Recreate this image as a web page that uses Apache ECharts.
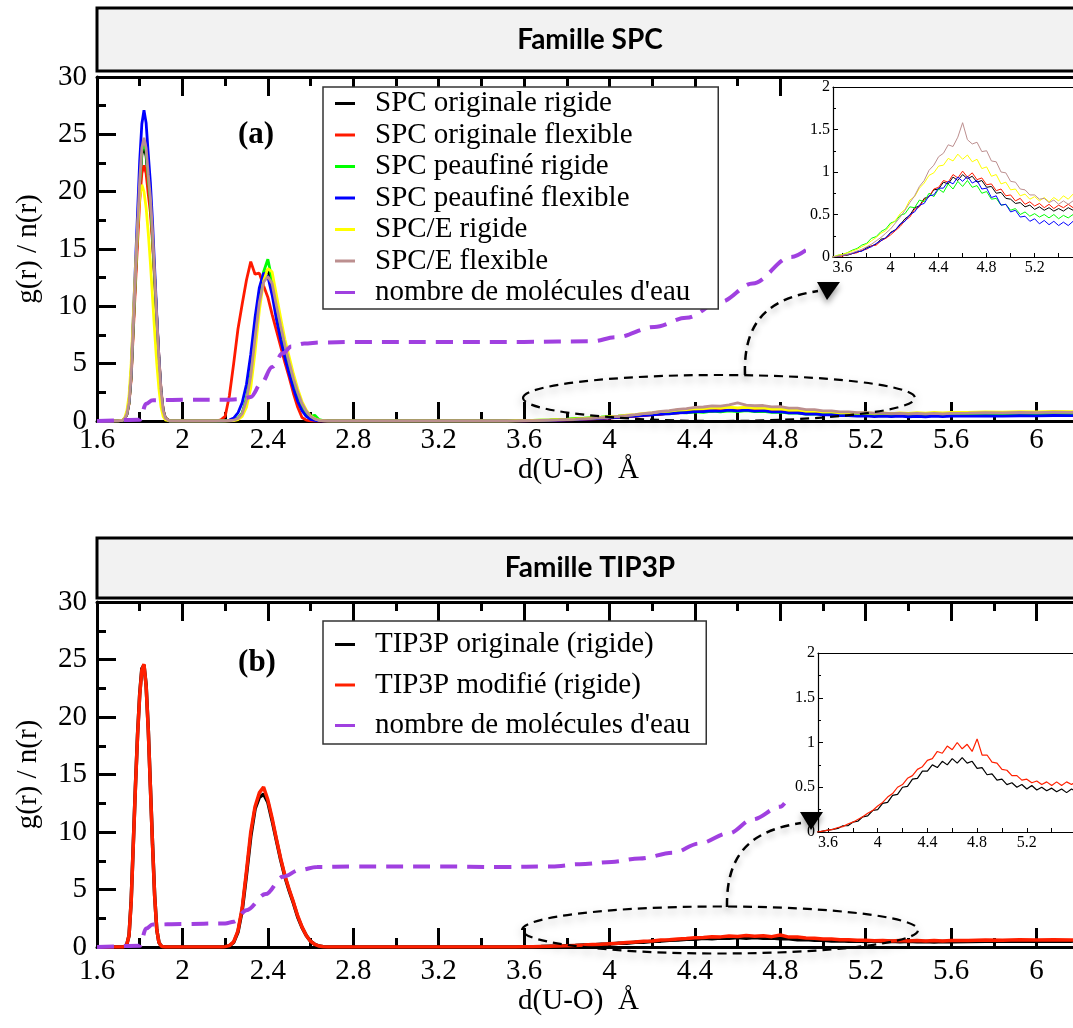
<!DOCTYPE html>
<html><head><meta charset="utf-8">
<script src="https://cdn.jsdelivr.net/npm/echarts@6/dist/echarts.min.js"></script>
<style>html,body{margin:0;padding:0;background:#fff}#c{width:1073px;height:1028px}</style>
</head><body><div id="c"></div>
<script>
// ---------- shared r grid (Å) for g(r) curves ----------
const r = [
  1.60, 1.66, 1.70,
  1.72, 1.73, 1.74, 1.75, 1.76, 1.77, 1.78, 1.79, 1.80, 1.81, 1.82, 1.83, 1.84, 1.85, 1.86, 1.87, 1.88, 1.89, 1.90, 1.91, 1.92,
  1.94, 1.98, 2.06, 2.12,
  2.16, 2.18, 2.20, 2.22, 2.24, 2.26, 2.28, 2.30, 2.32, 2.34, 2.36, 2.38, 2.40, 2.42, 2.44, 2.46, 2.48, 2.50, 2.52, 2.54, 2.56, 2.58, 2.60, 2.62, 2.64, 2.66, 2.68, 2.70,
  2.80, 3.00, 3.20, 3.40,
  3.52, 3.56, 3.60, 3.64, 3.68, 3.72, 3.76, 3.80, 3.84, 3.88, 3.92, 3.96, 4.00, 4.04, 4.08, 4.12, 4.16, 4.20, 4.24, 4.28,
  4.32, 4.36, 4.40, 4.44, 4.48, 4.52, 4.56, 4.60, 4.64, 4.68, 4.72, 4.76, 4.80, 4.84, 4.88, 4.92, 4.96, 5.00, 5.04, 5.08,
  5.12, 5.16, 5.20, 5.24, 5.28, 5.32, 5.36, 5.40, 5.44, 5.48, 5.52, 5.56, 5.60,
  5.68, 5.76, 5.84, 5.92, 6.00, 6.08, 6.16, 6.24
];

// ---------- panel (a) : famille SPC ----------
const spcOrigRigide = [
  0, 0, 0.005,
  0.05, 0.2, 0.58, 1.55, 3.9, 8.3, 12.5, 16.6, 20.5, 23.2, 24.0, 23.1, 20.9, 18.9, 16.0, 12.4, 8.8, 5.3, 2.5, 0.9, 0.25,
  0, 0, 0, 0,
  0, 0, 0, 0.02, 0.06, 0.2, 0.6, 1.8, 3.8, 7.4, 10.8, 12.4, 13.2, 11.9, 9.6, 8.0, 6.4, 5.0, 3.6, 2.4, 1.4, 0.75, 0.35, 0.15, 0.05, 0.02, 0, 0,
  0.01, 0, 0, 0,
  0.00, 0.01, 0.02, 0.02, 0.04, 0.06, 0.07, 0.11, 0.13, 0.15, 0.21, 0.22, 0.29, 0.32, 0.38, 0.45, 0.49, 0.58, 0.6, 0.69,
  0.71, 0.79, 0.8, 0.88, 0.86, 0.94, 0.9, 0.97, 0.92, 0.95, 0.88, 0.9, 0.82, 0.83, 0.75, 0.76, 0.69, 0.68, 0.63, 0.64,
  0.59, 0.61, 0.56, 0.59, 0.55, 0.58, 0.54, 0.57, 0.54, 0.58, 0.55, 0.59, 0.56,
  0.56, 0.6, 0.58, 0.62, 0.6, 0.64, 0.62, 0.65
];
const spcOrigFlex = [
  0, 0, 0.004,
  0.05, 0.18, 0.55, 1.5, 3.7, 7.8, 11.8, 15.6, 19.2, 21.6, 22.3, 21.6, 19.8, 18.2, 15.6, 12.4, 9.0, 5.6, 2.7, 1.0, 0.3,
  0.01, 0, 0, 0,
  0.02, 0.1, 0.4, 2.2, 5.0, 8.0, 10.2, 12.3, 13.9, 12.8, 12.9, 11.8, 10.8, 9.3, 7.9, 6.5, 5.1, 3.8, 2.4, 1.2, 0.3, 0.08, 0.02, 0, 0, 0, 0, 0,
  0, 0, 0, 0,
  0.00, 0.01, 0.01, 0.03, 0.04, 0.05, 0.08, 0.09, 0.13, 0.14, 0.19, 0.22, 0.26, 0.31, 0.36, 0.43, 0.47, 0.56, 0.59, 0.68,
  0.71, 0.8, 0.82, 0.9, 0.88, 0.97, 0.93, 1.01, 0.94, 0.99, 0.91, 0.93, 0.85, 0.86, 0.78, 0.8, 0.72, 0.73, 0.66, 0.69,
  0.62, 0.65, 0.6, 0.63, 0.58, 0.62, 0.57, 0.61, 0.58, 0.62, 0.58, 0.63, 0.6,
  0.62, 0.64, 0.63, 0.66, 0.65, 0.68, 0.66, 0.7
];
const spcPeauRigide = [
  0, 0, 0.005,
  0.05, 0.2, 0.6, 1.6, 4.0, 8.4, 12.7, 16.8, 20.8, 23.5, 24.4, 23.5, 21.2, 19.2, 16.2, 12.6, 8.9, 5.4, 2.5, 0.9, 0.25,
  0, 0, 0, 0,
  0, 0, 0.01, 0.03, 0.08, 0.25, 0.7, 2.0, 4.1, 7.8, 11.2, 13.0, 14.1, 12.3, 10.0, 8.2, 6.5, 5.0, 3.5, 2.3, 1.3, 0.7, 0.4, 0.5, 0.12, 0.04, 0.01, 0,
  0.01, 0, 0, 0,
  0.00, 0.02, 0.03, 0.05, 0.08, 0.1, 0.14, 0.16, 0.22, 0.24, 0.3, 0.33, 0.4, 0.42, 0.49, 0.51, 0.59, 0.58, 0.67, 0.65,
  0.75, 0.71, 0.8, 0.76, 0.86, 0.8, 0.89, 0.83, 0.9, 0.82, 0.84, 0.75, 0.77, 0.68, 0.69, 0.61, 0.62, 0.55, 0.57, 0.5,
  0.53, 0.48, 0.51, 0.47, 0.5, 0.46, 0.5, 0.45, 0.49, 0.46, 0.5, 0.47, 0.51,
  0.52, 0.55, 0.54, 0.57, 0.56, 0.6, 0.58, 0.62
];
const spcPeauFlex = [
  0, 0, 0.005,
  0.05, 0.2, 0.65, 1.7, 4.2, 9.0, 13.6, 18.2, 22.7, 25.9, 27.1, 26.0, 23.3, 20.8, 17.4, 13.3, 9.2, 5.5, 2.5, 0.85, 0.2,
  0, 0, 0, 0,
  0, 0, 0.02, 0.08, 0.25, 0.7, 1.6, 3.2, 5.8, 9.0, 11.6, 12.9, 12.6, 11.0, 8.9, 7.1, 5.5, 4.1, 2.8, 1.7, 0.9, 0.4, 0.15, 0.05, 0.01, 0, 0, 0,
  0, 0, 0, 0,
  0.00, 0.01, 0.02, 0.03, 0.04, 0.06, 0.07, 0.1, 0.12, 0.16, 0.19, 0.23, 0.28, 0.32, 0.39, 0.42, 0.5, 0.53, 0.61, 0.63,
  0.72, 0.73, 0.81, 0.81, 0.89, 0.86, 0.94, 0.89, 0.95, 0.87, 0.9, 0.8, 0.81, 0.7, 0.72, 0.61, 0.62, 0.53, 0.55, 0.47,
  0.48, 0.42, 0.45, 0.39, 0.43, 0.38, 0.42, 0.37, 0.41, 0.37, 0.42, 0.38, 0.42,
  0.42, 0.44, 0.43, 0.46, 0.45, 0.48, 0.47, 0.5
];
const spceRigide = [
  0, 0, 0.01,
  0.08, 0.3, 0.9, 2.2, 5.0, 9.2, 13.2, 16.8, 19.6, 20.6, 20.0, 18.6, 16.4, 13.8, 10.8, 7.8, 5.0, 2.8, 1.2, 0.4, 0.1,
  0, 0, 0, 0,
  0, 0, 0, 0.01, 0.04, 0.12, 0.4, 1.2, 2.9, 6.0, 9.6, 12.2, 13.3, 13.0, 11.0, 9.0, 7.1, 5.6, 4.1, 2.8, 1.7, 0.95, 0.45, 0.2, 0.07, 0.02, 0, 0,
  0.01, 0, 0, 0,
  0.00, 0.02, 0.03, 0.05, 0.07, 0.09, 0.12, 0.15, 0.19, 0.23, 0.28, 0.31, 0.38, 0.43, 0.51, 0.56, 0.67, 0.71, 0.81, 0.87,
  0.96, 0.99, 1.07, 1.08, 1.16, 1.13, 1.21, 1.15, 1.2, 1.12, 1.15, 1.04, 1.06, 0.95, 0.97, 0.86, 0.88, 0.79, 0.8, 0.72,
  0.74, 0.68, 0.71, 0.66, 0.7, 0.65, 0.7, 0.66, 0.72, 0.68, 0.74, 0.7, 0.76,
  0.76, 0.8, 0.78, 0.82, 0.8, 0.84, 0.82, 0.86
];
const spceFlex = [
  0, 0, 0.005,
  0.05, 0.2, 0.6, 1.6, 4.0, 8.5, 12.8, 17.0, 21.0, 23.8, 24.7, 23.8, 21.5, 19.5, 16.5, 12.8, 9.0, 5.5, 2.6, 0.9, 0.25,
  0, 0, 0, 0,
  0, 0, 0, 0.02, 0.07, 0.22, 0.65, 1.8, 3.9, 7.2, 10.3, 12.1, 12.6, 12.0, 10.1, 8.3, 6.6, 5.1, 3.7, 2.5, 1.5, 0.85, 0.4, 0.18, 0.06, 0.02, 0, 0,
  0.01, 0, 0, 0,
  0.00, 0.01, 0.02, 0.03, 0.05, 0.07, 0.09, 0.12, 0.15, 0.19, 0.23, 0.28, 0.33, 0.4, 0.47, 0.55, 0.64, 0.72, 0.83, 0.9,
  1.02, 1.08, 1.18, 1.22, 1.32, 1.3, 1.41, 1.58, 1.38, 1.33, 1.35, 1.24, 1.25, 1.13, 1.12, 1.0, 0.99, 0.89, 0.88, 0.8,
  0.79, 0.73, 0.73, 0.68, 0.69, 0.64, 0.67, 0.62, 0.66, 0.62, 0.66, 0.63, 0.67,
  0.68, 0.72, 0.7, 0.74, 0.73, 0.77, 0.75, 0.79
];
// number of water molecules n(r), panel (a)
const nTopR = [1.60, 1.80, 1.83, 1.86, 2.00, 2.20, 2.28, 2.32, 2.37, 2.42, 2.47, 2.51, 2.57, 2.65, 2.80, 3.20, 3.60, 3.92, 4.03, 4.21, 4.36, 4.52, 4.67, 4.85, 4.92];
const nTop  = [0, 0.1, 1.5, 1.8, 1.85, 1.85, 1.9, 2.1, 3.3, 4.7, 5.9, 6.5, 6.75, 6.85, 6.9, 6.9, 6.9, 6.95, 7.3, 8.2, 9.0, 10.4, 12.0, 14.3, 14.9];

// ---------- panel (b) : famille TIP3P ----------
const tip3pOrig = [
  0, 0, 0,
  0, 0.05, 0.25, 1.0, 4.0, 9.0, 14.0, 18.5, 22.0, 24.2, 24.5, 22.8, 19.0, 14.0, 9.0, 4.5, 1.5, 0.4, 0.1, 0.02, 0,
  0, 0, 0, 0,
  0, 0, 0.02, 0.1, 0.4, 1.3, 3.2, 6.3, 9.6, 12.0, 13.0, 13.3, 12.6, 11.0, 9.3, 7.6, 6.1, 4.9, 3.8, 2.6, 1.7, 1.0, 0.5, 0.22, 0.08, 0.02, 0, 0,
  0, 0, 0, 0,
  0.00, 0.01, 0.02, 0.03, 0.04, 0.07, 0.07, 0.11, 0.12, 0.17, 0.18, 0.24, 0.25, 0.32, 0.33, 0.41, 0.42, 0.5, 0.51, 0.59,
  0.6, 0.68, 0.68, 0.75, 0.72, 0.79, 0.75, 0.82, 0.77, 0.83, 0.77, 0.79, 0.71, 0.72, 0.64, 0.65, 0.58, 0.59, 0.53, 0.55,
  0.5, 0.53, 0.48, 0.52, 0.47, 0.5, 0.46, 0.49, 0.45, 0.48, 0.44, 0.48, 0.45,
  0.47, 0.5, 0.49, 0.52, 0.5, 0.53, 0.51, 0.54
];
const tip3pModif = [
  0, 0, 0,
  0, 0.05, 0.25, 1.0, 3.9, 8.9, 13.9, 18.4, 21.9, 24.1, 24.6, 22.7, 18.9, 13.9, 8.9, 4.4, 1.5, 0.4, 0.1, 0.02, 0,
  0, 0, 0, 0,
  0, 0, 0.03, 0.12, 0.45, 1.4, 3.4, 6.6, 10.0, 12.2, 13.4, 13.9, 12.8, 11.2, 9.4, 7.7, 6.2, 5.0, 3.9, 2.7, 1.75, 1.0, 0.5, 0.22, 0.08, 0.02, 0, 0,
  0, 0, 0, 0,
  0.00, 0.01, 0.02, 0.03, 0.05, 0.06, 0.09, 0.11, 0.14, 0.17, 0.21, 0.24, 0.29, 0.33, 0.39, 0.43, 0.5, 0.53, 0.6, 0.63,
  0.7, 0.73, 0.8, 0.82, 0.9, 0.88, 0.96, 0.92, 1.0, 0.93, 0.98, 0.9, 1.04, 0.86, 0.86, 0.78, 0.77, 0.7, 0.69, 0.63,
  0.63, 0.58, 0.59, 0.55, 0.57, 0.53, 0.56, 0.52, 0.56, 0.52, 0.56, 0.53, 0.57,
  0.56, 0.6, 0.58, 0.62, 0.6, 0.63, 0.61, 0.64
];
const nBotR = [1.60, 1.80, 1.83, 1.86, 2.00, 2.20, 2.24, 2.30, 2.39, 2.47, 2.55, 2.63, 2.80, 3.20, 3.49, 3.73, 3.86, 4.01, 4.14, 4.30, 4.42, 4.56, 4.67, 4.80, 4.82];
const nBot  = [0, 0.1, 1.6, 1.95, 2.0, 2.05, 2.2, 3.2, 4.6, 6.1, 6.7, 6.96, 7.0, 7.0, 6.96, 7.0, 7.2, 7.4, 7.7, 8.2, 9.0, 9.9, 11.1, 12.2, 12.5];

// ---------- names, colours, ticks ----------
const topNames = ['SPC originale rigide', 'SPC originale flexible', 'SPC peaufiné rigide', 'SPC peaufiné flexible', 'SPC/E rigide', 'SPC/E flexible'];
const topColors = ['#000000', '#ff1a00', '#00ff00', '#0000ff', '#ffff00', '#bc8f8f'];
const topValues = [spcOrigRigide, spcOrigFlex, spcPeauRigide, spcPeauFlex, spceRigide, spceFlex];
const botNames = ['TIP3P originale (rigide)', 'TIP3P modifié (rigide)'];
const botColors = ['#000000', '#ff2000'];
const botValues = [tip3pOrig, tip3pModif];
const nName = "nombre de molécules d'eau";
const nColor = '#a040e0';
const insetTicks = [3.6, 3.8, 4.0, 4.2, 4.4, 4.6, 4.8, 5.0, 5.2, 5.4, 5.6];
const insetLabels = [3.6, 4.0, 4.4, 4.8, 5.2];

// ---------- build ----------
const SERIF = 'Liberation Serif';
const pts = (xs, ys) => xs.map((x, i) => [x, ys[i]]);
const fmt = v => String(Math.round(v * 10) / 10);

function mainX(grid, pos, labels, labelMargin, nameGap) {
  return {
    gridIndex: grid, type: 'value', position: pos, min: 1.6, max: 6.4, interval: 0.4,
    axisLine: { show: true, onZero: false, lineStyle: { color: '#000', width: 3 } },
    axisTick: { show: true, inside: true, length: 19, lineStyle: { color: '#000', width: 3 } },
    minorTick: { show: true, splitNumber: 2, length: 9, lineStyle: { color: '#000', width: 3 } },
    splitLine: { show: false },
    axisLabel: { show: labels, formatter: fmt, fontFamily: SERIF, fontSize: 29, color: '#000', margin: labelMargin },
    name: labels ? 'd(U-O)  Å' : '', nameLocation: 'middle', nameGap: nameGap,
    nameTextStyle: { fontFamily: SERIF, fontSize: 29, color: '#000', padding: [0, 62, 0, 0] }
  };
}
function mainY(grid) {
  return {
    gridIndex: grid, type: 'value', position: 'left', min: 0, max: 30, interval: 5,
    axisLine: { show: true, onZero: false, lineStyle: { color: '#000', width: 3 } },
    axisTick: { show: true, inside: true, length: 19, lineStyle: { color: '#000', width: 3 } },
    minorTick: { show: true, splitNumber: 2, length: 9, lineStyle: { color: '#000', width: 3 } },
    splitLine: { show: false },
    axisLabel: { fontFamily: SERIF, fontSize: 29, color: '#000', margin: 10 },
    name: 'g(r) / n(r)', nameLocation: 'middle', nameGap: 54, nameRotate: 90,
    nameTextStyle: { fontFamily: SERIF, fontSize: 29, color: '#000' }
  };
}
function insetX(grid, pos, max) {
  const bottom = pos === 'bottom';
  return {
    gridIndex: grid, type: 'value', position: pos, min: 3.52, max: max, z: 6,
    axisLine: { show: true, onZero: false, lineStyle: { color: '#000', width: 1.2 } },
    axisTick: { show: bottom, inside: true, length: 4, customValues: insetTicks, lineStyle: { color: '#000', width: 1 } },
    axisLabel: { show: bottom, customValues: insetLabels, formatter: fmt, fontFamily: SERIF, fontSize: 16, color: '#000', margin: 3 },
    splitLine: { show: false }
  };
}
function insetY(grid) {
  return {
    gridIndex: grid, type: 'value', position: 'left', min: 0, max: 2, interval: 0.5, z: 6,
    axisLine: { show: true, onZero: false, lineStyle: { color: '#000', width: 1.2 } },
    axisTick: { show: true, inside: true, length: 5, lineStyle: { color: '#000', width: 1 } },
    minorTick: { show: true, splitNumber: 2, length: 3, lineStyle: { color: '#000', width: 1 } },
    splitLine: { show: false },
    axisLabel: { fontFamily: SERIF, fontSize: 16, color: '#000', margin: 3 }
  };
}
function line(name, xi, yi, data, color, width, z, dashed) {
  return {
    type: 'line', name, xAxisIndex: xi, yAxisIndex: yi, data, showSymbol: false, symbol: 'none',
    clip: true, z, smooth: dashed ? 0.35 : false, smoothMonotone: dashed ? 'x' : undefined,
    itemStyle: { color },
    lineStyle: { color, width, type: dashed ? [17, 10] : 'solid' }
  };
}

const series = [];
topValues.forEach((v, i) => series.push(line(topNames[i], 0, 0, pts(r, v), topColors[i], 2.8, 2)));
series.push(line(nName, 0, 0, pts(nTopR, nTop), nColor, 4, 3, true));
topValues.forEach((v, i) => series.push(line(topNames[i], 2, 1, pts(r, v), topColors[i], 1, 7)));
botValues.forEach((v, i) => series.push(line(botNames[i], 4, 2, pts(r, v), botColors[i], 3.5, 2)));
series.push(line(nName, 4, 2, pts(nBotR, nBot), nColor, 4, 3, true));
botValues.forEach((v, i) => series.push(line(botNames[i], 6, 3, pts(r, v), botColors[i], 1.2, 7)));

const legendText = { fontFamily: SERIF, fontSize: 29, color: '#000', padding: [0, 0, 0, 15] };
const gridBase = { outerBoundsMode: 'none', containLabel: false };

const option = {
  animation: false,
  backgroundColor: '#fff',
  grid: [
    Object.assign({ left: 97, top: 77, width: 1025, height: 344 }, gridBase),
    Object.assign({ left: 833, top: 87, width: 250, height: 170 }, gridBase),
    Object.assign({ left: 97, top: 602, width: 1025, height: 345 }, gridBase),
    Object.assign({ left: 818, top: 653, width: 265, height: 179 }, gridBase)
  ],
  xAxis: [
    mainX(0, 'bottom', true, 5, 32),
    mainX(0, 'top', false, 5, 0),
    insetX(1, 'bottom', 5.603),
    insetX(1, 'top', 5.603),
    mainX(2, 'bottom', true, 10, 38),
    mainX(2, 'top', false, 5, 0),
    insetX(3, 'bottom', 5.652),
    insetX(3, 'top', 5.652)
  ],
  yAxis: [mainY(0), insetY(1), mainY(2), insetY(3)],
  legend: [
    {
      data: topNames.concat([nName]), orient: 'vertical', left: 323, top: 87,
      padding: [2, 28, 2, 12], itemGap: 2.5, itemWidth: 20, itemHeight: 3, icon: 'rect',
      borderColor: '#333', borderWidth: 1.5, backgroundColor: '#fff', selectedMode: false,
      textStyle: Object.assign({ lineHeight: 26 }, legendText)
    },
    {
      data: botNames.concat([nName]), orient: 'vertical', left: 323, top: 621,
      padding: [9, 16, 4, 12], itemGap: 11.5, itemWidth: 20, itemHeight: 3, icon: 'rect',
      borderColor: '#333', borderWidth: 1.5, backgroundColor: '#fff', selectedMode: false,
      textStyle: Object.assign({ lineHeight: 29 }, legendText)
    }
  ],
  graphic: [
    { type: 'rect', z: 1, shape: { x: 97, y: 8, width: 1000, height: 63 }, style: { fill: '#f2f2f2', stroke: '#000', lineWidth: 3 } },
    { type: 'text', z: 2, x: 590, y: 40, style: { text: 'Famille SPC', font: 'bold 28px Lato', fill: '#000', align: 'center', verticalAlign: 'middle' } },
    { type: 'rect', z: 1, shape: { x: 97, y: 538, width: 1000, height: 60 }, style: { fill: '#f2f2f2', stroke: '#000', lineWidth: 3 } },
    { type: 'text', z: 2, x: 590, y: 568, style: { text: 'Famille TIP3P', font: 'bold 28px Lato', fill: '#000', align: 'center', verticalAlign: 'middle' } },
    { type: 'text', z: 2, x: 256, y: 135, style: { text: '(a)', font: 'bold 31px "Liberation Serif"', fill: '#000', align: 'center', verticalAlign: 'middle' } },
    { type: 'text', z: 2, x: 257, y: 663, style: { text: '(b)', font: 'bold 31px "Liberation Serif"', fill: '#000', align: 'center', verticalAlign: 'middle' } },
    // white backing behind the top inset
    { type: 'rect', z: 5, shape: { x: 806, y: 79, width: 270, height: 200 }, style: { fill: '#fff' } },
    // zoom ellipses, connectors and arrow heads
    { type: 'ellipse', z: 10, shape: { cx: 719, cy: 398, rx: 196, ry: 23 }, style: { fill: 'none', stroke: '#000', lineWidth: 2.2, lineDash: [9, 6], shadowBlur: 8, shadowColor: 'rgba(0,0,0,0.35)', shadowOffsetY: 4 } },
    { type: 'bezierCurve', z: 10, shape: { x1: 745, y1: 375, cpx1: 743, cpy1: 318, cpx2: 772, cpy2: 298, x2: 818, y2: 291 }, style: { fill: 'none', stroke: '#000', lineWidth: 2.5, lineDash: [9, 6], shadowBlur: 6, shadowColor: 'rgba(0,0,0,0.3)', shadowOffsetY: 4 } },
    { type: 'polygon', z: 10, shape: { points: [[817, 282], [840, 282], [827, 300]] }, style: { fill: '#000', shadowBlur: 6, shadowColor: 'rgba(0,0,0,0.4)', shadowOffsetY: 4 } },
    { type: 'ellipse', z: 10, shape: { cx: 720, cy: 930, rx: 198, ry: 23.5 }, style: { fill: 'none', stroke: '#000', lineWidth: 2.2, lineDash: [9, 6], shadowBlur: 8, shadowColor: 'rgba(0,0,0,0.35)', shadowOffsetY: 4 } },
    { type: 'bezierCurve', z: 10, shape: { x1: 727, y1: 907, cpx1: 726, cpy1: 850, cpx2: 755, cpy2: 830, x2: 801, y2: 823 }, style: { fill: 'none', stroke: '#000', lineWidth: 2.5, lineDash: [9, 6], shadowBlur: 6, shadowColor: 'rgba(0,0,0,0.3)', shadowOffsetY: 4 } },
    { type: 'polygon', z: 10, shape: { points: [[800, 812], [823, 812], [811, 830]] }, style: { fill: '#000', shadowBlur: 6, shadowColor: 'rgba(0,0,0,0.4)', shadowOffsetY: 4 } }
  ],
  series
};

const chart = echarts.init(document.getElementById('c'), null, { renderer: 'canvas' });
chart.setOption(option);
</script>
</body></html>
